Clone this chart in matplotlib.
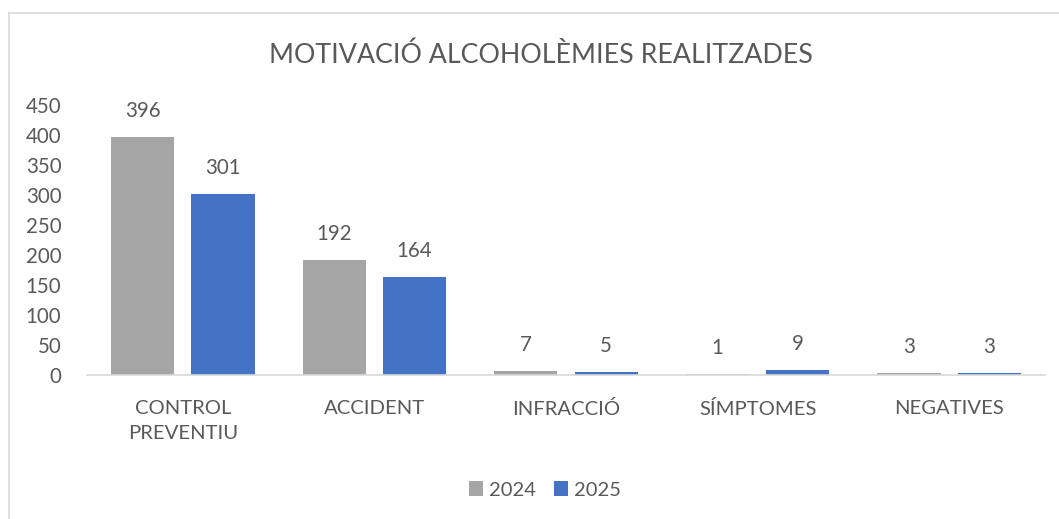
import numpy as np
import matplotlib
matplotlib.use("Agg")
import matplotlib.pyplot as plt
from matplotlib.lines import Line2D

plt.rcParams['font.family'] = ['Lato', 'DejaVu Sans']

categories = ["CONTROL\nPREVENTIU", "ACCIDENT", "INFRACCIÓ", "SÍMPTOMES", "NEGATIVES"]
vals_2024 = [396, 192, 7, 1, 3]
vals_2025 = [301, 164, 5, 9, 3]
series = ["2024", "2025"]
colors = ["#A5A5A5", "#4472C4"]
yticks = [0, 50, 100, 150, 200, 250, 300, 350, 400, 450]

txt = "#595959"
W, H = 1059, 519
fig = plt.figure(figsize=(W / 100, H / 100), dpi=100)
ax = fig.add_axes([87 / W, 1 - 375 / H, (1045 - 87) / W, (375 - 105) / H])

# chart frame (only left and top visible)
fig.add_artist(Line2D([9 / W, 9 / W], [0, 1 - 13 / H], color="#D9D9D9", lw=1.2))
fig.add_artist(Line2D([9 / W, 1], [1 - 13 / H, 1 - 13 / H], color="#D9D9D9", lw=1.2))

x = np.arange(len(categories))
bw = 0.33
off = 0.21
for i, (vals, name) in enumerate(zip([vals_2024, vals_2025], series)):
    pos = x + (-off if i == 0 else off)
    bars = ax.bar(pos, vals, bw, color=colors[i], label=name, zorder=2)
    for b, v in zip(bars, vals):
        ax.annotate(str(v), (b.get_x() + b.get_width() / 2, v), xytext=(0, 11.5),
                    textcoords="offset points", ha="center", va="bottom",
                    fontsize=14.8, color=txt)

ax.set_xlim(-0.5, len(categories) - 0.5)
ax.set_ylim(0, 450)
ax.set_yticks(yticks)
ax.set_xticks(x)
ax.set_xticklabels(categories, fontsize=14.6, color=txt, linespacing=1.55)
ax.tick_params(axis="y", length=0, labelsize=14.8, labelcolor=txt, pad=18.5)
ax.tick_params(axis="x", length=0, pad=18)
for s in ["top", "right", "left"]:
    ax.spines[s].set_visible(False)
ax.spines["bottom"].set_color("#D9D9D9")
ax.spines["bottom"].set_linewidth(1.2)

fig.text(541 / W, 1 - 55 / H, "MOTIVACIÓ ALCOHOLÈMIES REALITZADES", ha="center", va="center",
         fontsize=19.3, color=txt)

fig.legend(loc="center", bbox_to_anchor=(545 / W, 1 - 490 / H), ncol=2, frameon=False,
           fontsize=14.5, labelcolor=txt, handlelength=0.7, handleheight=0.7,
           handletextpad=0.3, columnspacing=0.9)

fig.savefig("out.png", dpi=100, facecolor="white")
